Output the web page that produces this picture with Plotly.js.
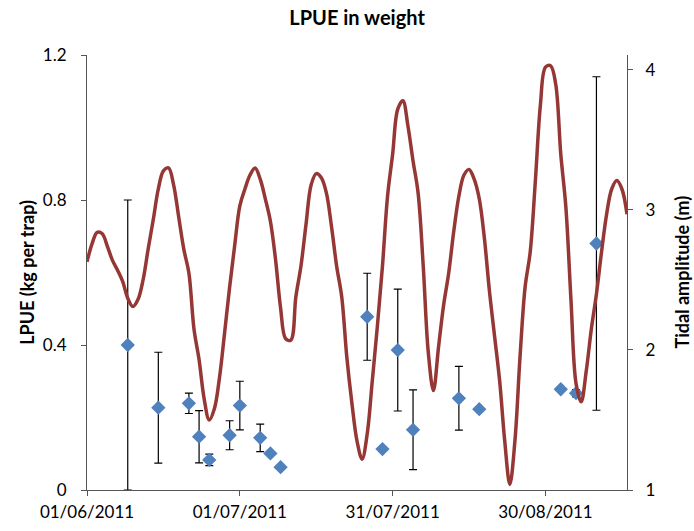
<!DOCTYPE html>
<html>
<head>
<meta charset="utf-8">
<script src="https://cdn.plot.ly/plotly-3.0.1.min.js"></script>
<style>html,body{margin:0;padding:0;background:#fff;}#chart{width:694px;height:531px;}</style>
</head>
<body>
<div id="chart"></div>
<script>
// LPUE samples (kg per trap) with error bars
const lpueDates = ['2011-06-09','2011-06-15','2011-06-21','2011-06-23','2011-06-25','2011-06-29','2011-07-01','2011-07-05','2011-07-07','2011-07-09','2011-07-26','2011-07-29','2011-08-01','2011-08-04','2011-08-13','2011-08-17','2011-09-02','2011-09-05','2011-09-09'];
const lpueValues = [0.40,0.227,0.239,0.147,0.083,0.151,0.233,0.144,0.101,0.063,0.478,0.113,0.386,0.166,0.253,0.223,0.278,0.267,0.68];
const lpueErrors = [0.40,0.153,0.028,0.072,0.016,0.04,0.067,0.038,null,null,0.12,null,0.168,0.11,0.088,null,null,0.01,0.46];

// Daily tidal amplitude (m), starting 01/06/2011
const tideStart = '2011-06-01';
const tideValues = [
2.63,2.76,2.84,2.83,2.74,2.64,2.57,2.49,2.37,2.31,
2.36,2.50,2.72,2.93,3.15,3.28,3.30,3.18,2.95,2.72,
2.55,2.15,1.93,1.65,1.50,1.58,1.80,2.12,2.45,2.75,
3.03,3.15,3.25,3.30,3.22,3.08,2.92,2.65,2.30,2.08,
2.07,2.38,2.60,2.90,3.18,3.26,3.23,3.12,2.88,2.60,
2.38,1.95,1.62,1.35,1.22,1.40,1.78,2.17,2.60,3.10,
3.40,3.72,3.78,3.60,3.35,3.12,2.60,1.98,1.71,2.02,
2.32,2.55,2.85,3.10,3.25,3.29,3.22,3.08,2.80,2.42,
2.10,1.78,1.35,1.04,1.35,1.95,2.45,2.70,3.20,3.75,
4.02,4.03,3.90,3.40,3.02,2.36,1.76,1.63,1.85,2.15,
2.40,2.70,2.97,3.15,3.21,3.15,2.97];

const tideDates = tideValues.map((v, i) => {
  const d = new Date(tideStart + 'T00:00:00Z');
  d.setUTCDate(d.getUTCDate() + i);
  return d.toISOString().slice(0, 10);
});

const FONT = 'Lato, "Open Sans", sans-serif';

const traces = [
  {
    x: lpueDates, y: lpueValues, type: 'scatter', mode: 'markers',
    marker: {symbol: 'diamond', size: 11, color: '#4F81BD'},
    error_y: {type: 'data', array: lpueErrors, visible: true, color: '#000', thickness: 1.2, width: 4},
    yaxis: 'y', showlegend: false, hoverinfo: 'skip'
  },
  {
    x: tideDates, y: tideValues, type: 'scatter', mode: 'lines',
    line: {color: '#953735', width: 3.5, shape: 'spline', smoothing: 1},
    yaxis: 'y2', showlegend: false, hoverinfo: 'skip'
  }
];

const layout = {
  width: 694, height: 531,
  margin: {l: 87, r: 67, t: 55, b: 41, pad: 0},
  paper_bgcolor: '#fff', plot_bgcolor: '#fff',
  font: {family: FONT, size: 17, color: '#000'},
  title: {text: '<b>LPUE in weight</b>', font: {family: FONT, size: 20, color: '#000'}, x: 0.5145, xanchor: 'center', y: 0.966, yanchor: 'middle'},
  xaxis: {
    type: 'date', range: ['2011-06-01', '2011-09-15'],
    tick0: '2011-06-01', dtick: 30 * 86400000, tickformat: '%d/%m/%Y',
    showgrid: false, zeroline: false, showline: true, linecolor: '#555', linewidth: 1,
    ticks: 'outside', ticklen: 5, tickcolor: '#555', ticklabelstandoff: 2,
    tickfont: {family: FONT, size: 17, color: '#000'}
  },
  yaxis: {
    range: [0, 1.2], dtick: 0.4, tick0: 0,
    showgrid: false, zeroline: false, showline: true, linecolor: '#555', linewidth: 1,
    ticks: 'outside', ticklen: 5, tickcolor: '#555', ticklabelstandoff: 11,
    tickfont: {family: FONT, size: 17, color: '#000'},
    title: {text: '<b>LPUE (kg per trap)</b>', font: {family: FONT, size: 18, color: '#000'}, standoff: 3}
  },
  yaxis2: {
    overlaying: 'y', side: 'right', range: [1, 4.107], dtick: 1, tick0: 1,
    showgrid: false, zeroline: false, showline: true, linecolor: '#555', linewidth: 1,
    ticks: 'outside', ticklen: 5, tickcolor: '#555', ticklabelstandoff: 9,
    tickfont: {family: FONT, size: 17, color: '#000'}
  },
  annotations: [{
    text: '<b>Tidal amplitude (m)</b>', xref: 'paper', yref: 'paper',
    x: 1.1, y: 0.5, xanchor: 'center', yanchor: 'middle', textangle: -90,
    showarrow: false, font: {family: FONT, size: 18, color: '#000'}
  }]
};

Plotly.newPlot('chart', traces, layout, {staticPlot: true, displayModeBar: false});
</script>
</body>
</html>
